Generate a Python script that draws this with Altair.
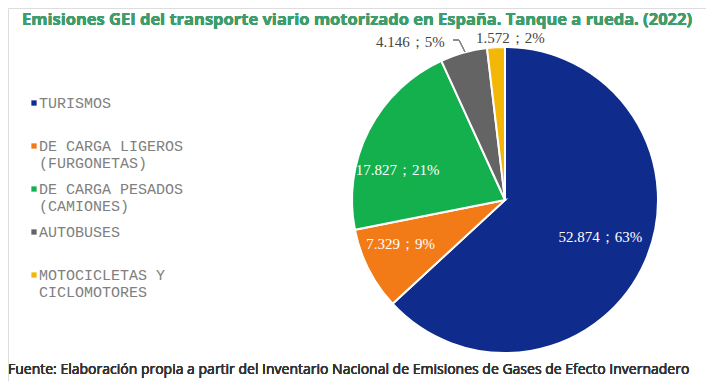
import altair as alt
import pandas as pd

categories = ["TURISMOS", "DE CARGA LIGEROS (FURGONETAS)", "DE CARGA PESADOS (CAMIONES)",
              "AUTOBUSES", "MOTOCICLETAS Y CICLOMOTORES"]
legend_labels = ["TURISMOS", "DE CARGA LIGEROS\n(FURGONETAS)", "DE CARGA PESADOS\n(CAMIONES)",
                 "AUTOBUSES", "MOTOCICLETAS Y\nCICLOMOTORES"]
values = [52874, 7329, 17827, 4146, 1572]
value_labels = ["52.874", "7.329", "17.827", "4.146", "1.572"]
pct_labels = ["63%", "9%", "21%", "5%", "2%"]
colors = ["#0f2b8c", "#f27b17", "#14b04e", "#646464", "#f3b707"]

title_text = "Emisiones GEI del transporte viario motorizado en España. Tanque a rueda. (2022)"
source_text = "Fuente: Elaboración propia a partir del Inventario Nacional de Emisiones de Gases de Efecto Invernadero"

df = pd.DataFrame({
    "cat": categories,
    "legend": legend_labels,
    "value": values,
    "label": [f"{v}；{p}" for v, p in zip(value_labels, pct_labels)],
    "idx": list(range(len(categories))),
})

CX, CY, R = 497, 192, 153

base = alt.Chart(df)
theta = alt.Theta("value:Q", stack=True)
order = alt.Order("idx:O")
color_scale = alt.Scale(domain=categories, range=colors)

pie = base.mark_arc(outerRadius=R, stroke="white", strokeWidth=2).encode(
    theta=theta, order=order,
    color=alt.Color("cat:N", scale=color_scale, legend=None),
    x=alt.value(CX), y=alt.value(CY),
)

def slice_label(cat, radius, dx, dy, color):
    return base.mark_text(radius=radius, dx=dx, dy=dy, font="Liberation Serif", fontSize=15,
                          color=color, align="center", baseline="middle").encode(
        theta=theta, order=order,
        text=alt.condition(alt.datum.cat == cat, "label:N", alt.value("")),
        x=alt.value(CX), y=alt.value(CY),
    )

labels = [
    slice_label(categories[0], 102, 2, -4, "white"),
    slice_label(categories[1], 115, -2, -8, "white"),
    slice_label(categories[2], 115, -5, 22, "white"),
    slice_label(categories[3], 165, -50, 1, "#444444"),
    slice_label(categories[4], 165, 15, 3, "#444444"),
]

leader1 = alt.Chart(df).mark_rule(color="#888888", strokeWidth=1).encode(
    x=alt.value(445), x2=alt.value(451), y=alt.value(32), y2=alt.value(32))
leader2 = alt.Chart(df).mark_rule(color="#888888", strokeWidth=1).encode(
    x=alt.value(451), x2=alt.value(457), y=alt.value(32), y2=alt.value(44))

ypos = alt.Y("cat:N", sort=categories, axis=None, scale=alt.Scale(range=[100, 272], padding=0))
leg_sq = base.mark_square(size=28, yOffset=-5, opacity=1).encode(
    y=ypos, x=alt.value(26),
    color=alt.Color("cat:N", scale=color_scale, legend=None),
)
leg_txt = base.mark_text(align="left", baseline="alphabetic", font="Liberation Mono", fontSize=15,
                         lineBreak="\n", lineHeight=17, color="#808080").encode(
    y=ypos, x=alt.value(31), text="legend:N",
)

title = alt.Chart(df).mark_text(text=title_text, font="Open Sans", fontWeight="bold", fontSize=16.5,
                                color="#3f9c6b", align="center", baseline="middle").encode(
    x=alt.value(349), y=alt.value(12))
source = alt.Chart(df).mark_text(text=source_text, font="Open Sans", fontSize=14,
                                 color="#333333", align="left", baseline="middle").encode(
    x=alt.value(0), y=alt.value(362))

chart = alt.layer(pie, *labels, leader1, leader2, leg_sq, leg_txt, title, source).properties(
    width=698, height=373,
    autosize=alt.AutoSizeParams(type="none"),
    padding=0,
).configure_view(stroke=None).configure(background="white")

chart.save("out.html", embed_options={"renderer": "svg", "actions": False})
